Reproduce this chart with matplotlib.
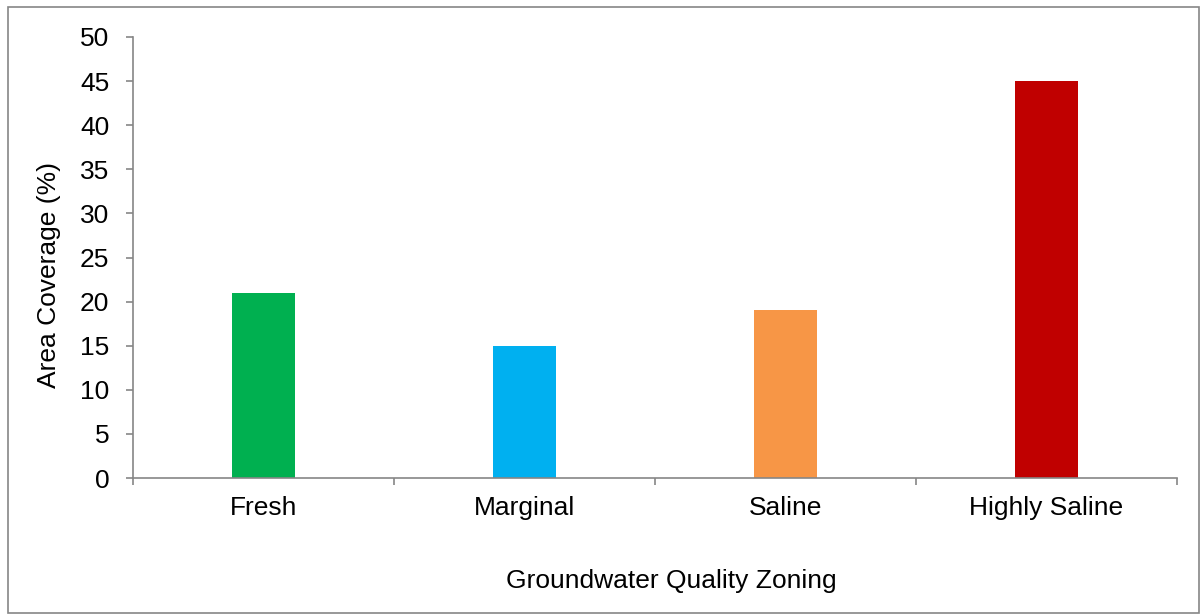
import matplotlib
matplotlib.use("Agg")
import matplotlib.pyplot as plt
from matplotlib.patches import Rectangle
from matplotlib.ticker import FixedLocator, NullFormatter

categories = ["Fresh", "Marginal", "Saline", "Highly Saline"]
coverage = [21, 15, 19, 45]
bar_colors = ["#00B050", "#00B0F0", "#F79646", "#C00000"]
y_ticks = [0, 5, 10, 15, 20, 25, 30, 35, 40, 45, 50]

plt.rcParams["font.family"] = ["Liberation Sans", "DejaVu Sans"]

W, H = 1202, 614
FS = 19
fig = plt.figure(figsize=(W / 100, H / 100), dpi=100)
ax = fig.add_axes([133 / W, 1 - 478 / H, (1177 - 133) / W, (478 - 37) / H])

x = list(range(len(categories)))
ax.bar(x, coverage, width=0.24, color=bar_colors)

ax.set_xlim(-0.5, len(categories) - 0.5)
ax.set_ylim(0, 50)
ax.set_yticks(y_ticks)
ax.set_xticks(x)
ax.set_xticklabels(categories)
ax.xaxis.set_minor_locator(FixedLocator([i - 0.5 for i in range(len(categories) + 1)]))
ax.xaxis.set_minor_formatter(NullFormatter())

axis_grey = "#868686"
for side in ("top", "right"):
    ax.spines[side].set_visible(False)
for side in ("left", "bottom"):
    ax.spines[side].set_color(axis_grey)
    ax.spines[side].set_linewidth(1.2)

ax.tick_params(axis="y", direction="out", length=5, width=1.2, color=axis_grey,
               labelsize=FS, pad=12, labelcolor="black")
ax.tick_params(axis="x", which="major", length=0, labelsize=FS, pad=13, labelcolor="black")
ax.tick_params(axis="x", which="minor", direction="out", length=5, width=1.2, color=axis_grey)

ax.set_ylabel("Area Coverage (%)", fontsize=FS, labelpad=14)
ax.yaxis.label.set_y(0.46)
ax.set_xlabel("Groundwater Quality Zoning", fontsize=FS, labelpad=35)
ax.xaxis.label.set_x(0.516)

# outer frame around the chart
fig.add_artist(Rectangle((8 / W, 1 / H), (1199 - 8) / W, (H - 7) / H - 1 / H,
                         transform=fig.transFigure, fill=False,
                         edgecolor=axis_grey, linewidth=1.2))

fig.savefig("out.png", dpi=100)
